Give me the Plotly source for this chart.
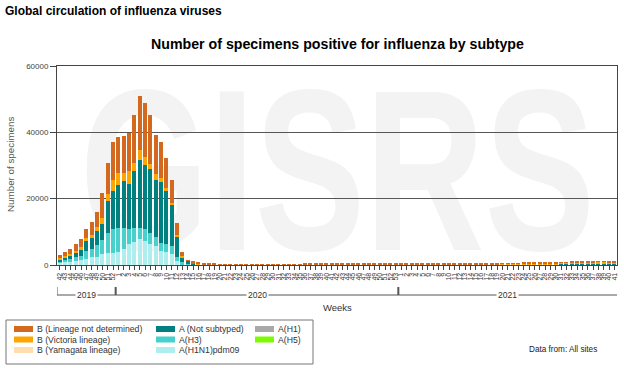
import base64
import plotly.graph_objects as go

# ---------------- data ----------------
weeks_2019 = [42, 43, 44, 45, 46, 47, 48, 49, 50, 51, 52]
weeks_2020 = [1, 2, 3, 4, 5, 6, 7, 8, 9, 10, 11, 12, 13, 14, 15, 16, 17, 18, 19, 20,
              21, 22, 23, 24, 25, 26, 27, 28, 29, 30, 31, 32, 33, 34, 35, 36, 37, 38, 39, 40,
              41, 42, 43, 44, 45, 46, 47, 48, 49, 50, 51, 52, 53]
weeks_2021 = [1, 2, 3, 4, 5, 6, 7, 8, 9, 10, 11, 12, 13, 14, 15, 16, 17, 18, 19, 20,
              21, 22, 23, 24, 25, 26, 27, 28, 29, 30, 31, 32, 33, 34, 35, 36, 37, 38, 39, 40, 41]
years = ["2019", "2020", "2021"]
year_weeks = [weeks_2019, weeks_2020, weeks_2021]
week_labels = [str(w) for w in weeks_2019 + weeks_2020 + weeks_2021]

a_h1n1pdm09 = [500, 800, 1000, 1300, 1400, 1900, 2300, 2500, 3300, 3500, 3500, 3800, 4800,
               6300, 6800, 7800, 7300, 6300, 5800, 4300, 3800, 3300, 1300, 300, 100,
               60, 40, 30, 20, 20, 20, 20, 20, 20, 20, 20, 20, 20, 20,
               20, 20, 20, 20, 20, 20, 20, 20, 20, 20, 20, 20, 20, 20, 20, 20, 20, 20, 20, 20,
               20, 20, 20, 20, 20, 20, 20, 20, 20,
               20, 20, 20, 20, 20, 20, 20,
               20, 20, 20, 20, 20, 20, 30, 30, 30, 30, 30, 30, 30, 30, 30, 30, 30, 40, 40, 40,
               40, 40, 50, 50, 50, 50, 50, 50, 50, 50]
a_h3 = [700, 800, 900, 1200, 1400, 2200, 2500, 3500, 4200, 6300, 7300, 7500, 6500,
        4500, 4500, 3300, 3500, 3500, 2500, 2200, 2500, 2500, 1000, 500, 200,
        60, 40, 30, 20, 20, 20, 20, 20, 20, 20, 20, 20, 20, 20,
        20, 20, 20, 20, 20, 20, 20, 20, 20, 20, 20, 20, 20, 20, 20, 20, 20, 20, 20, 20,
        20, 20, 20, 20, 20, 20, 20, 20, 20,
        20, 20, 20, 20, 20, 20, 20,
        20, 20, 30, 30, 30, 30, 30, 30, 30, 30, 40, 40, 40, 40, 50, 50, 50, 60, 60, 60,
        60, 70, 70, 70, 80, 80, 80, 80, 70, 70]
a_not_subtyped = [600, 700, 900, 1200, 1800, 3200, 3200, 4300, 4800, 9500, 11500, 12800, 14000,
                  13500, 17000, 20500, 19500, 19000, 17200, 18600, 16000, 12200, 6200, 1500, 1000,
                  300, 150, 100, 80, 60, 50, 50, 40, 40, 40, 40, 40, 40, 40,
                  40, 40, 40, 40, 50, 50, 50, 50, 50, 50, 50, 60, 60, 60, 60, 60, 60, 60, 60, 60,
                  60, 60, 60, 60, 60, 60, 60, 60, 60,
                  60, 60, 60, 60, 60, 60, 60,
                  60, 60, 70, 70, 70, 80, 80, 80, 90, 90, 100, 100, 110, 120, 130, 140, 160, 180, 200, 220,
                  240, 260, 280, 300, 310, 320, 330, 320, 310, 300]
a_h1 = [0] * 105
a_h5 = [0] * 105
b_yamagata = [0] * 105
b_victoria = [400, 500, 400, 600, 700, 800, 1100, 1100, 1800, 2000, 3300, 3500, 2500,
              4000, 2500, 3000, 2200, 1700, 1800, 1200, 1000, 800, 600, 300, 0,
              150, 80, 60, 50, 40, 30, 30, 30, 30, 30, 30, 30, 30, 30,
              30, 30, 40, 40, 40, 50, 50, 50, 60, 60, 70, 70, 80, 80, 90, 90, 100, 100, 110, 110,
              120, 130, 130, 140, 130, 120, 110, 100, 90,
              80, 80, 70, 70, 80, 80, 90,
              100, 110, 120, 130, 140, 150, 160, 150, 160, 170, 180, 190, 200, 210, 220, 230, 250, 270, 290, 310,
              330, 360, 380, 400, 420, 450, 480, 460, 440, 420]
b_lineage_nd = [800, 1200, 1500, 2100, 2400, 2800, 3900, 4600, 7500, 9500, 11500, 10900, 11200,
                11500, 14500, 16500, 16300, 14600, 11800, 10700, 9000, 6700, 3700, 1200, 200,
                500, 300, 250, 200, 180, 150, 150, 120, 120, 130, 120, 110, 120, 130,
                130, 140, 130, 150, 140, 160, 150, 170, 160, 180, 180, 190, 200, 190, 210, 200, 220, 210, 230, 240,
                260, 280, 270, 290, 300, 280, 260, 240, 220,
                200, 180, 170, 160, 170, 180, 190,
                200, 210, 220, 230, 220, 240, 250, 240, 250, 260, 250, 240, 230, 220, 230, 240, 250, 240, 230, 220,
                230, 240, 250, 260, 270, 260, 250, 260, 240, 230]

series_names = ["A(H1N1)pdm09", "A(H3)", "A (Not subtyped)", "A(H1)", "A(H5)",
                "B (Yamagata lineage)", "B (Victoria lineage)", "B (Lineage not determined)"]
series_values = [a_h1n1pdm09, a_h3, a_not_subtyped, a_h1, a_h5, b_yamagata, b_victoria, b_lineage_nd]
series_colors = ["#afeeee", "#48d1cc", "#008080", "#a9a9a9", "#7cfc00",
                 "#ffdead", "#ffa500", "#d2691e"]

# legend layout (columns of names)
legend_columns = [["B (Lineage not determined)", "B (Victoria lineage)", "B (Yamagata lineage)"],
                  ["A (Not subtyped)", "A(H3)", "A(H1N1)pdm09"],
                  ["A(H1)", "A(H5)"]]

# ---------------- figure ----------------
W, H = 624, 368
ML, MR, MT, MB = 57, 7, 66, 103
PW, PH = W - ML - MR, H - MT - MB

def px_x(px):
    return (px - ML) / PW

def px_y(py):
    return (H - MB - py) / PH

x = list(range(len(week_labels)))
fig = go.Figure()
for name, vals, col in zip(series_names, series_values, series_colors):
    fig.add_trace(go.Bar(x=x, y=vals, name=name, marker=dict(color=col, line=dict(width=0)),
                         showlegend=False))

# watermark
svg = ('<svg xmlns="http://www.w3.org/2000/svg" width="560" height="199" viewBox="0 0 560 199">'
       '<text x="23" y="184" font-family="Liberation Sans, Arial, sans-serif" font-weight="bold" '
       'font-size="230" textLength="515" lengthAdjust="spacingAndGlyphs" fill="#f3f3f3">GISRS</text>'
       '</svg>')
src = "data:image/svg+xml;base64," + base64.b64encode(svg.encode()).decode()

shapes = []
annotations = []

# year bracket under the week labels
y_line = px_y(295)
y_top = px_y(287)
bounds = [-0.5]
for wk in year_weeks:
    bounds.append(bounds[-1] + len(wk))
shapes.append(dict(type="line", xref="x", yref="paper", x0=bounds[0], x1=bounds[-1],
                   y0=y_line, y1=y_line, line=dict(color="#555", width=1)))
for i, b in enumerate(bounds[:-1]):
    shapes.append(dict(type="line", xref="x", yref="paper", x0=b, x1=b, y0=y_line, y1=y_top,
                       line=dict(color="#555", width=1 if i == 0 else 2)))
for i, yr in enumerate(years):
    annotations.append(dict(text=yr, xref="x", yref="paper", x=(bounds[i] + bounds[i + 1]) / 2,
                            y=y_line, xanchor="center", yanchor="middle", showarrow=False,
                            bgcolor="white", borderpad=1,
                            font=dict(size=8.5, color="#333", family="Liberation Sans, Arial")))

annotations.append(dict(text="Weeks", xref="paper", yref="paper", x=0.5, y=px_y(307.5),
                        xanchor="center", yanchor="middle", showarrow=False,
                        font=dict(size=9.5, color="#333", family="Liberation Sans, Arial")))
annotations.append(dict(text="<b>Global circulation of influenza viruses</b>", xref="paper", yref="paper",
                        x=px_x(3), y=px_y(11), xanchor="left", yanchor="middle", showarrow=False,
                        font=dict(size=12, color="#000", family="Liberation Sans, Arial")))
annotations.append(dict(text="<b>Number of specimens positive for influenza by subtype</b>",
                        xref="paper", yref="paper", x=px_x(337), y=px_y(44),
                        xanchor="center", yanchor="middle", showarrow=False,
                        font=dict(size=14.2, color="#000", family="Liberation Sans, Arial")))
annotations.append(dict(text="Number of specimens", xref="paper", yref="paper", x=px_x(10), y=px_y(165),
                        xanchor="center", yanchor="middle", textangle=-90, showarrow=False,
                        font=dict(size=9.8, color="#555", family="Liberation Sans, Arial")))
annotations.append(dict(text="Data from: All sites", xref="paper", yref="paper", x=px_x(563), y=px_y(349),
                        xanchor="center", yanchor="middle", showarrow=False,
                        font=dict(size=8.2, color="#222", family="Liberation Sans, Arial")))

# custom legend box
shapes.append(dict(type="rect", xref="paper", yref="paper", x0=px_x(6), x1=px_x(313),
                   y0=px_y(320), y1=px_y(364), line=dict(color="#777", width=1)))
col_x = [14, 156, 255]
row_y = [329, 339.5, 350]
color_of = dict(zip(series_names, series_colors))
for ci, col in enumerate(legend_columns):
    for ri, nm in enumerate(col):
        shapes.append(dict(type="rect", xref="paper", yref="paper",
                           x0=px_x(col_x[ci]), x1=px_x(col_x[ci] + 19),
                           y0=px_y(row_y[ri] - 3), y1=px_y(row_y[ri] + 3),
                           fillcolor=color_of[nm], line=dict(width=0)))
        annotations.append(dict(text=nm, xref="paper", yref="paper", x=px_x(col_x[ci] + 21),
                                y=px_y(row_y[ri]), xanchor="left", yanchor="middle", showarrow=False,
                                font=dict(size=8.7, color="#333", family="Liberation Sans, Arial")))

fig.update_layout(
    width=W, height=H, autosize=False,
    margin=dict(l=ML, r=MR, t=MT, b=MB, pad=0),
    paper_bgcolor="white", plot_bgcolor="white",
    barmode="stack", bargap=0.22,
    font=dict(family="Liberation Sans, Arial", color="#333"),
    showlegend=False,
    shapes=shapes, annotations=annotations,
    images=[dict(source=src, xref="paper", yref="paper", x=0, y=1, sizex=1, sizey=1,
                 sizing="stretch", xanchor="left", yanchor="top", layer="below")],
    xaxis=dict(range=[-0.5, len(x) - 0.5], tickmode="array", tickvals=x, ticktext=week_labels,
               tickangle=-90, tickfont=dict(size=7, color="#333"), ticks="outside", ticklen=4,
               tickcolor="#444", showgrid=False, showline=True, linecolor="#444", linewidth=1,
               mirror=True, zeroline=False, fixedrange=True),
    yaxis=dict(range=[0, 60000], tickvals=[0, 20000, 40000, 60000], tickformat="d",
               tickfont=dict(size=8, color="#444"), ticks="outside", ticklen=6, tickcolor="#444",
               showgrid=True, gridcolor="#555", gridwidth=1, showline=True, linecolor="#444",
               linewidth=1, mirror=True, zeroline=False, fixedrange=True),
)

fig.write_html("out.html", config={"displayModeBar": False},
               post_script="document.body.style.margin='0';document.body.style.overflow='hidden';")
